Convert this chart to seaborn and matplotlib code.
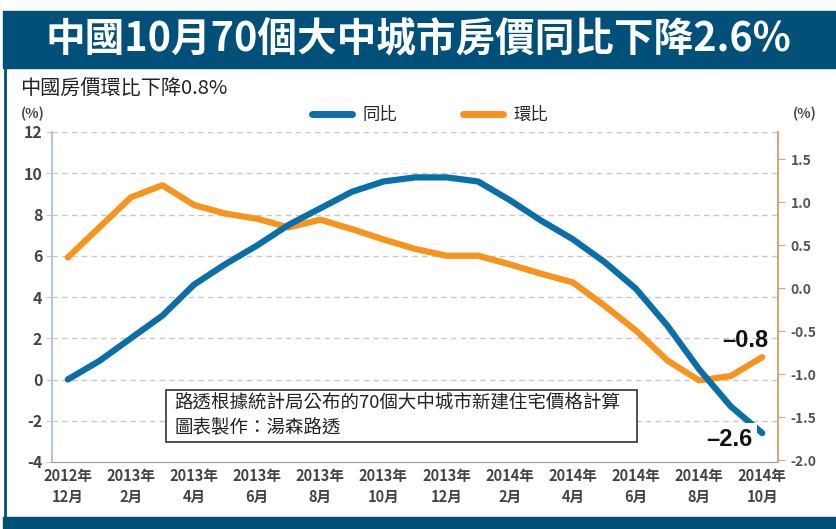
import seaborn as sns
import matplotlib.pyplot as plt
import pandas as pd
from matplotlib.patches import Rectangle
from matplotlib.lines import Line2D

# monthly data, Dec 2012 - Oct 2014
months = ['2012-12', '2013-01', '2013-02', '2013-03', '2013-04', '2013-05',
          '2013-06', '2013-07', '2013-08', '2013-09', '2013-10', '2013-11',
          '2013-12', '2014-01', '2014-02', '2014-03', '2014-04', '2014-05',
          '2014-06', '2014-07', '2014-08', '2014-09', '2014-10']
yoy = [0.0, 0.9, 2.0, 3.1, 4.6, 5.6, 6.5, 7.5, 8.3, 9.1, 9.6, 9.8,
       9.8, 9.6, 8.7, 7.7, 6.8, 5.7, 4.4, 2.6, 0.5, -1.3, -2.6]
mom = [0.36, 0.71, 1.06, 1.2, 0.97, 0.87, 0.81, 0.71, 0.8, 0.69, 0.57, 0.46,
       0.38, 0.38, 0.28, 0.17, 0.07, -0.2, -0.49, -0.84, -1.07, -1.02, -0.8]
x_labels = ['2012年\n12月', '2013年\n2月', '2013年\n4月', '2013年\n6月',
            '2013年\n8月', '2013年\n10月', '2013年\n12月', '2014年\n2月',
            '2014年\n4月', '2014年\n6月', '2014年\n8月', '2014年\n10月']
left_ticks = [-4, -2, 0, 2, 4, 6, 8, 10, 12]
right_ticks = [-2.0, -1.5, -1.0, -0.5, 0.0, 0.5, 1.0, 1.5]

BLUE = '#0a6fa8'
ORANGE = '#f7941d'
NAVY = '#01507a'

sns.set_style('white')
plt.rcParams['font.family'] = ['Noto Sans CJK TC', 'DejaVu Sans']
plt.rcParams['axes.unicode_minus'] = False

df = pd.DataFrame({'month': months, 'yoy': yoy, 'mom': mom})
df['i'] = range(len(df))

W, H = 836, 529
fig = plt.figure(figsize=(W / 100, H / 100), dpi=100)

# banner + frame
fig.add_artist(Rectangle((3 / W, 1 - 68 / H), 1, 57 / H, transform=fig.transFigure,
                         color=NAVY, zorder=0))
fig.add_artist(Rectangle((3 / W, 0), 1, 12 / H, transform=fig.transFigure,
                         color=NAVY, zorder=0))
fig.add_artist(Line2D([4.5 / W, 4.5 / W], [12 / H, 1 - 68 / H], transform=fig.transFigure,
                      color=NAVY, lw=2, zorder=0))
fig.text(0.5, 1 - 40 / H, '中國10月70個大中城市房價同比下降2.6%', color='white',
         fontsize=28.5, fontweight='bold', ha='center', va='center')
fig.text(20 / W, 1 - 88 / H, '中國房價環比下降0.8%', fontsize=14.5, color='#222222',
         ha='left', va='center')

rect = [52 / W, 1 - 462 / H, (778 - 52) / W, (462 - 132) / H]
ax = fig.add_axes(rect)
ax_r = ax.twinx()
ax_b = ax.twinx()

# base axes: grid + left scale
ax.set_xlim(-0.5, 22.5)
ax.set_ylim(-4, 12)
ax.set_yticks(left_ticks)
ax.set_yticklabels([str(t) for t in left_ticks], fontsize=11.5, fontweight='bold',
                   color='#444444')
for t in left_ticks[1:]:
    ax.axhline(t, color='#c8c8c8', lw=1, ls=(0, (4, 3)), zorder=0)
ax.set_xticks(range(0, 23, 2))
ax.set_xticks(range(1, 23, 2), minor=True)
ax.set_xticklabels(x_labels, fontsize=10.5, fontweight='bold', color='#444444',
                   linespacing=1.45)
ax.tick_params(axis='x', which='both', direction='in', length=4, color='#999999', pad=4)
ax.tick_params(axis='y', direction='out', length=4, color='#cccccc', pad=3)
for s in ['top', 'right']:
    ax.spines[s].set_visible(False)
ax.spines['left'].set_color('#b4c8dc')
ax.spines['left'].set_linewidth(1.5)
ax.spines['bottom'].set_color('#999999')

# orange: month-on-month, right scale
sns.lineplot(data=df, x='i', y='mom', ax=ax_r, color=ORANGE, lw=4.5, legend=False)
ax_r.set_ylim(-2.02, 1.82)
ax_r.set_yticks(right_ticks)
ax_r.set_yticklabels(['%.1f' % t for t in right_ticks], fontsize=10,
                     fontweight='bold', color='#555555')
ax_r.tick_params(axis='y', direction='out', length=5, color='#d9a57a', pad=4)
ax_r.set_ylabel('')
for s in ['top', 'left', 'bottom']:
    ax_r.spines[s].set_visible(False)
ax_r.spines['right'].set_color('#d9a57a')
ax_r.spines['right'].set_linewidth(1.5)

# blue: year-on-year, left scale
sns.lineplot(data=df, x='i', y='yoy', ax=ax_b, color=BLUE, lw=4.5, legend=False)
ax_b.set_ylim(-4, 12)
ax_b.set_yticks([])
ax_b.set_ylabel('')
for s in ax_b.spines.values():
    s.set_visible(False)
ax.set_xlabel('')

ax_r.annotate('–0.8', xy=(22, mom[-1]), xytext=(-17, 17), textcoords='offset pixels',
              ha='center', va='center', fontsize=17, fontweight='bold',
              family=['Liberation Sans', 'DejaVu Sans'], color='#111111')
ax_b.annotate('–2.6', xy=(22, yoy[-1]), xytext=(-33, -6), textcoords='offset pixels',
              ha='center', va='center', fontsize=17, fontweight='bold',
              family=['Liberation Sans', 'DejaVu Sans'], color='#111111',
              bbox=dict(boxstyle='square,pad=0.2', fc='white', ec='none'))

fig.text(33 / W, 1 - 114 / H, '(%)', fontsize=10, fontweight='bold', color='#444444',
         ha='center', va='center')
fig.text(805 / W, 1 - 114 / H, '(%)', fontsize=10, fontweight='bold', color='#444444',
         ha='center', va='center')

handles = [Line2D([], [], color=BLUE, lw=5), Line2D([], [], color=ORANGE, lw=5)]
fig.legend(handles, ['同比', '環比'], loc='center', bbox_to_anchor=(430 / W, 1 - 115 / H),
           ncol=2, frameon=False, fontsize=12.5, handlelength=2.3, handletextpad=0.6,
           columnspacing=3.8)

# source box
fig.add_artist(Rectangle((166 / W, 1 - 442 / H), (637 - 166) / W, 52 / H,
                         transform=fig.transFigure, fc='white', ec='#333333', lw=1.2,
                         zorder=5))
fig.text(174 / W, 1 - 404 / H, '路透根據統計局公布的70個大中城市新建住宅價格計算',
         fontsize=13.3, color='#222222', ha='left', va='center', zorder=6)
fig.text(174 / W, 1 - 428 / H, '圖表製作：湯森路透', fontsize=13.3, color='#222222',
         ha='left', va='center', zorder=6)

fig.savefig('out.png', dpi=100)
